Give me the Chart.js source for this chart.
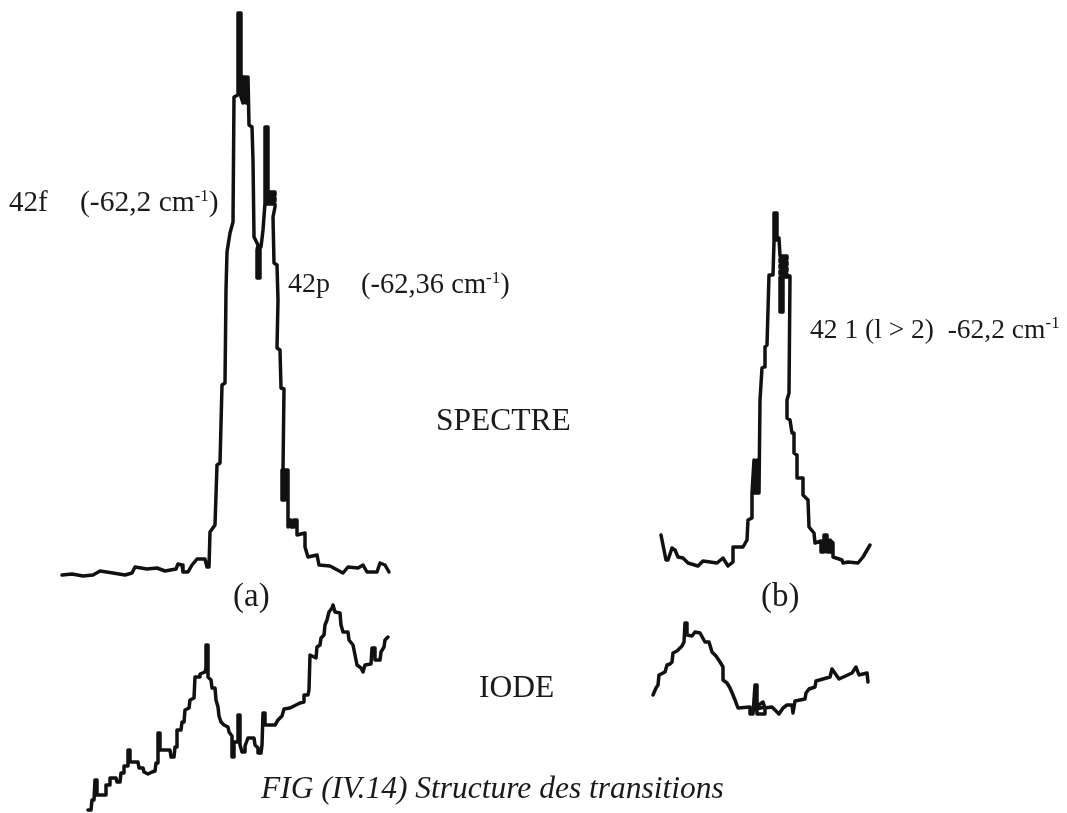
<!DOCTYPE html>
<html>
<head>
<meta charset="utf-8">
<title>FIG (IV.14)</title>
<script src="https://cdn.jsdelivr.net/npm/chart.js@4"></script>
<style>
  html, body { margin: 0; padding: 0; background: #fff; }
  #wrap { position: relative; width: 1067px; height: 813px; overflow: hidden; }
  #chart { position: absolute; left: 0; top: 0; }
  .lbl { position: absolute; font-family: "Liberation Serif", serif; font-size: 27px; line-height: 30px; color: #1a1a1a; white-space: pre; }
  .lbl sup { font-size: 17px; line-height: 0; vertical-align: 10px; }
  .big { font-size: 31.5px; }
  .cap { font-style: italic; font-size: 31.5px; }
</style>
</head>
<body>
<div id="wrap">
  <canvas id="chart" width="1067" height="813"></canvas>
  <div class="lbl" style="left:9px;top:186px;font-size:29px">42f</div>
  <div class="lbl" style="left:80px;top:186px;font-size:29.5px">(-62,2 cm<sup>-1</sup>)</div>
  <div class="lbl" style="left:288px;top:268px;font-size:28px">42p</div>
  <div class="lbl" style="left:361px;top:269px;font-size:28.5px">(-62,36 cm<sup>-1</sup>)</div>
  <div class="lbl big" style="left:436px;top:405px">SPECTRE</div>
  <div class="lbl" style="left:233px;top:580px;font-size:33px">(a)</div>
  <div class="lbl" style="left:761px;top:580px;font-size:33px">(b)</div>
  <div class="lbl big" style="left:479px;top:672px">IODE</div>
  <div class="lbl" style="left:810px;top:314px;font-size:27.5px">42 1 (l &gt; 2)  -62,2 cm<sup>-1</sup></div>
  <div class="lbl cap" style="left:261px;top:773px">FIG (IV.14) Structure des transitions</div>
</div>
<script>
// --- Traces (x, y in picture units) ---
const spectreA_x = [62,72,83,93,100,113,125,132,135,147,157,165,176,178,182,183,188,192,197,205,207,209,210,215,217,220,222,225,226,227,230,233,234,238,238,241,241,243,243,246,246,248,248,249,252,253,254,258,257,257,260,260,261,263,265,265,268,268,275,275,266,266,275,275,266,266,275,275,273,274,277,278,277,280,281,284,283,282,282,285,285,288,288,288,291,291,294,294,297,297,305,305,308,317,319,330,343,348,358,363,367,377,380,385,389];
const spectreA_y = [575,574,576,575,571,573,575,573,567,569,568,571,569,564,565,572,572,565,559,559,567,567,532,525,465,463,385,383,290,252,233,222,97,95,13,13,97,103,77,77,103,103,77,125,127,160,237,245,250,278,278,247,247,230,203,127,127,192,192,195,195,198,198,201,201,204,204,207,217,263,265,300,348,350,388,389,470,470,500,500,470,470,527,520,520,527,527,520,520,535,533,547,557,555,565,566,573,567,568,565,572,572,563,565,572];

const spectreB_x = [661,663,666,668,672,675,678,683,688,698,703,717,723,728,733,733,743,747,748,752,752,754,754,757,757,759,759,760,762,764,765,767,769,773,774,774,777,777,776,779,780,787,787,780,780,787,787,780,780,787,787,780,780,787,787,780,780,783,783,790,789,787,787,790,792,794,794,797,797,803,803,808,809,814,815,821,821,824,824,827,827,830,830,833,833,842,843,848,858,863,870];
const spectreB_y = [535,545,560,560,548,550,557,558,563,566,561,563,558,566,562,547,547,540,520,518,493,460,493,493,460,460,493,400,368,367,347,345,275,275,242,213,213,240,240,238,256,256,259,259,262,262,265,265,268,268,271,271,274,274,277,277,312,312,276,276,393,400,418,420,433,433,453,455,478,478,495,500,527,533,543,541,552,552,535,535,552,552,540,543,557,560,563,562,563,557,545];

const iodeA_x = [88,91,92,94,95,97,97,106,106,110,110,116,117,120,121,124,124,128,128,130,130,138,139,143,144,148,152,155,156,158,158,160,160,170,171,174,175,177,177,181,182,184,185,189,190,194,195,200,200,205,206,206,208,208,211,212,215,216,218,219,221,224,228,229,232,232,234,234,238,238,240,240,242,244,245,248,254,255,258,258,261,262,263,265,265,275,278,282,284,290,296,300,304,304,308,309,310,316,317,320,321,324,325,327,329,332,333,335,340,341,343,348,349,353,355,357,361,363,365,371,372,375,375,380,381,384,385,388];
const iodeA_y = [810,810,800,800,780,780,795,795,785,785,778,778,782,782,773,773,766,766,750,750,762,762,768,768,772,774,772,771,763,763,733,733,750,750,757,757,747,747,730,730,722,722,710,708,700,698,677,677,674,672,668,645,645,677,680,688,688,700,707,716,722,725,727,732,736,757,757,742,742,715,715,745,752,752,746,738,738,745,748,753,753,745,713,713,725,725,720,716,709,708,705,703,702,695,695,690,655,658,647,645,638,635,625,620,612,608,605,612,613,625,632,632,640,645,655,665,668,672,665,664,648,648,660,660,652,647,640,637];

const iodeB_x = [653,656,658,659,665,667,670,672,673,677,682,684,685,687,687,692,695,700,705,709,712,716,720,723,723,727,730,733,735,738,750,750,753,755,757,757,765,765,752,763,765,772,779,783,787,792,793,795,805,806,809,815,816,830,832,839,852,856,859,867,868];
const iodeB_y = [695,688,685,675,672,665,664,662,653,651,646,642,623,623,635,636,632,633,642,642,652,656,662,667,680,683,688,695,700,708,707,714,714,685,685,714,714,707,710,702,708,707,714,708,705,705,713,701,699,693,689,687,681,677,669,679,673,667,675,673,682];

const traces = [
  { name: 'Spectre (a)', x: spectreA_x, y: spectreA_y },
  { name: 'Spectre (b)', x: spectreB_x, y: spectreB_y },
  { name: 'Iode (a)',    x: iodeA_x,    y: iodeA_y },
  { name: 'Iode (b)',    x: iodeB_x,    y: iodeB_y }
];

new Chart(document.getElementById('chart').getContext('2d'), {
  type: 'scatter',
  data: {
    datasets: traces.map(t => ({
      label: t.name,
      data: t.x.map((v, i) => ({ x: v, y: t.y[i] })),
      showLine: true,
      borderColor: '#111',
      borderWidth: 3.5,
      borderJoinStyle: 'round',
      borderCapStyle: 'round',
      pointRadius: 0,
      fill: false,
      tension: 0
    }))
  },
  options: {
    responsive: false,
    animation: false,
    layout: { padding: 0 },
    plugins: { legend: { display: false }, tooltip: { enabled: false } },
    scales: {
      x: { type: 'linear', min: 0, max: 1067, display: false },
      y: { type: 'linear', min: 0, max: 813, reverse: true, display: false }
    }
  }
});
</script>
</body>
</html>
